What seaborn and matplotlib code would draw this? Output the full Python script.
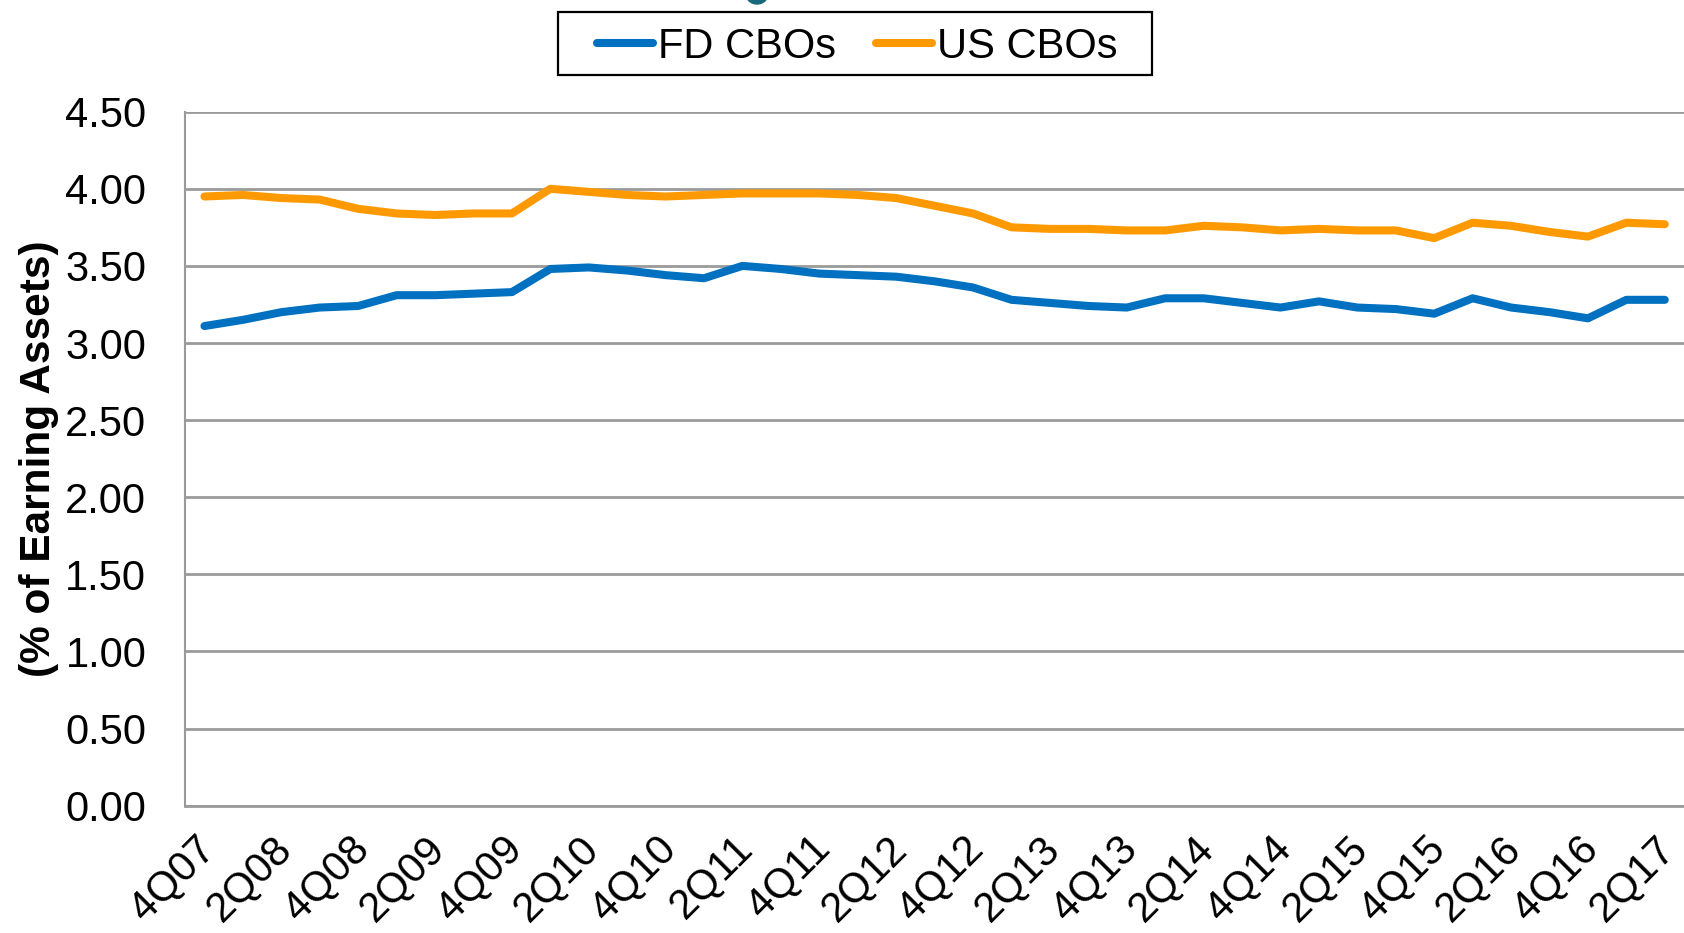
import matplotlib

matplotlib.use("Agg")
import matplotlib.pyplot as plt
import matplotlib.transforms as mtransforms
import numpy as np
import pandas as pd
import seaborn as sns
from matplotlib.patches import Ellipse, Rectangle

# quarterly series, 4Q07 .. 2Q17
quarters = ["4Q07"] + [f"{q}Q{y:02d}" for y in range(8, 17) for q in range(1, 5)] + ["1Q17", "2Q17"]

fd_cbos = [
    3.11, 3.15, 3.20, 3.23, 3.24, 3.31, 3.31, 3.32, 3.33, 3.48,
    3.49, 3.47, 3.44, 3.42, 3.50, 3.48, 3.45, 3.44, 3.43, 3.40,
    3.36, 3.28, 3.26, 3.24, 3.23, 3.29, 3.29, 3.26, 3.23, 3.27,
    3.23, 3.22, 3.19, 3.29, 3.23, 3.20, 3.16, 3.28, 3.28,
]
us_cbos = [
    3.95, 3.96, 3.94, 3.93, 3.87, 3.84, 3.83, 3.84, 3.84, 4.00,
    3.98, 3.96, 3.95, 3.96, 3.97, 3.97, 3.97, 3.96, 3.94, 3.89,
    3.84, 3.75, 3.74, 3.74, 3.73, 3.73, 3.76, 3.75, 3.73, 3.74,
    3.73, 3.73, 3.68, 3.78, 3.76, 3.72, 3.69, 3.78, 3.77,
]
series_names = ["FD CBOs", "US CBOs"]
colors = {"FD CBOs": "#0070C0", "US CBOs": "#FF9900"}

df = pd.DataFrame({
    "idx": np.tile(np.arange(len(quarters)), 2),
    "value": fd_cbos + us_cbos,
    "series": np.repeat(series_names, len(quarters)),
})

sns.set_style("white")
plt.rcParams["font.family"] = ["Liberation Sans", "DejaVu Sans"]
plt.rcParams["text.color"] = "black"
plt.rcParams["axes.labelcolor"] = "black"
plt.rcParams["xtick.labelcolor"] = "black"
plt.rcParams["ytick.labelcolor"] = "black"

fig = plt.figure(figsize=(16.84, 9.33), dpi=100)
ax = fig.add_axes([0.110, 0.1365, 0.890, 0.7438])

sns.lineplot(data=df, x="idx", y="value", hue="series", palette=colors,
             linewidth=5.8, ax=ax, legend=True)
for ln in ax.lines:
    ln.set_solid_capstyle("round")
    ln.set_solid_joinstyle("round")

grey = "#9a9a9a"
ax.set_ylim(0, 4.5)
yt = np.arange(0, 4.51, 0.5)
ax.set_yticks(yt)
ax.set_yticklabels([f"{v:.2f}" for v in yt], fontsize=30)
ax.yaxis.grid(True, color=grey, linewidth=2)
ax.set_axisbelow(True)

ax.set_xlim(-0.5, 38.23)
ax.set_xticks(np.arange(0, len(quarters), 2))
ax.set_xticklabels(quarters[::2], fontsize=30, rotation=45, ha="right",
                   rotation_mode="anchor")
ax.set_xticks(np.arange(-0.5, len(quarters), 1), minor=True)
ax.tick_params(axis="x", which="major", length=0, pad=14)
ax.tick_params(axis="x", which="minor", length=10, width=1.5, color=grey)
ax.tick_params(axis="y", length=12, width=2, color=grey, pad=16)

for side in ["top", "right"]:
    ax.spines[side].set_visible(False)
ax.spines["left"].set_color(grey)
ax.spines["left"].set_linewidth(1.5)
ax.spines["bottom"].set_color(grey)
ax.spines["bottom"].set_linewidth(2)

ax.set_xlabel("")
ax.set_ylabel("(% of Earning Assets)", fontsize=30.5, fontweight="bold")
ax.yaxis.set_label_coords(-0.0845, 0.5)

handles, labels = ax.get_legend_handles_labels()
ax.get_legend().remove()
leg = fig.legend(handles, labels, loc="center", bbox_to_anchor=(0.5091, 0.9496),
                 ncol=2, fontsize=30, frameon=False,
                 handlelength=1.36, handletextpad=0.12, columnspacing=0.94)
for h in leg.get_lines():
    h.set_linewidth(5.8)
    h.set_solid_capstyle("round")

# legend frame box
fig.add_artist(Rectangle((0.3314, 0.9196), 0.3525, 0.0675, transform=fig.transFigure,
                         fill=False, edgecolor="black", linewidth=1.6))
# cut-off title mark at the top edge
fig.add_artist(Ellipse((757 / 1684, 1 + 6 / 933), 22 / 1684, 20 / 933,
                       transform=fig.transFigure, color="#17697a"))

# nudge rotated x labels so their top end sits under the tick
shift = mtransforms.ScaledTranslation(-0.10, -0.03, fig.dpi_scale_trans)
for tick in ax.xaxis.get_major_ticks():
    tick.label1.set_transform(tick.label1.get_transform() + shift)

fig.savefig("out.png", dpi=100)
